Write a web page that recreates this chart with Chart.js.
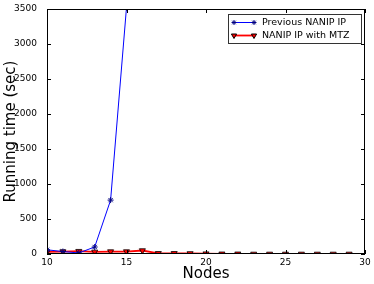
<!DOCTYPE html>
<html>
<head>
<meta charset="utf-8">
<script src="https://cdn.jsdelivr.net/npm/chart.js@4/dist/chart.umd.min.js"></script>
<style>
  html, body { margin: 0; padding: 0; background: #fff; }
  #wrap { width: 374px; height: 284px; }
</style>
</head>
<body>
<div id="wrap"><canvas id="chart" width="374" height="284"></canvas></div>
<script>
// 数据
const nodesPrev = [10, 11, 12, 13, 14, 15];
const timePrev = [60, 35, 15, 100, 770, 3520];
const nodesMtz = [10, 11, 12, 13, 14, 15, 16, 17, 18, 19, 20, 21, 22, 23, 24, 25, 26, 27, 28, 29];
const timeMtz = [30, 35, 40, 30, 35, 35, 50, 10, 10, 8, 5, 3, 3, 1, 1, 1, 1, 1, 1, 1];
const xTicks = [10, 15, 20, 25, 30];
const yTicks = [0, 500, 1000, 1500, 2000, 2500, 3000, 3500];
const labelPrev = 'Previous NANIP IP';
const labelMtz = 'NANIP IP with MTZ';

const FONT = "'DejaVu Sans', sans-serif";

// 刻度线向内 + 图例框
const framePlugin = {
  id: 'frame',
  afterDraw(chart) {
    const { ctx, chartArea: a, scales } = chart;
    ctx.save();
    ctx.strokeStyle = '#000';
    ctx.lineWidth = 1;
    ctx.beginPath();
    xTicks.forEach(v => {
      const x = Math.round(scales.x.getPixelForValue(v)) + 0.5;
      ctx.moveTo(x, a.bottom); ctx.lineTo(x, a.bottom - 4);
      ctx.moveTo(x, a.top); ctx.lineTo(x, a.top + 4);
    });
    yTicks.forEach(v => {
      const y = Math.round(scales.y.getPixelForValue(v)) + 0.5;
      ctx.moveTo(a.left, y); ctx.lineTo(a.left + 4, y);
      ctx.moveTo(a.right, y); ctx.lineTo(a.right - 4, y);
    });
    ctx.stroke();
    ctx.strokeRect(a.left + 0.5, a.top + 0.5, a.right - a.left - 1, a.bottom - a.top - 1);

    // 图例
    const bx = 228.5, by = 14.5, bw = 133, bh = 29;
    ctx.fillStyle = '#fff';
    ctx.fillRect(bx, by, bw, bh);
    ctx.strokeStyle = '#333';
    ctx.strokeRect(bx, by, bw, bh);
    const items = [
      { y: 22, color: '#0000ff', style: 'star', fill: '#000080', r: 2.5, rot: 0, w: 1, label: labelPrev },
      { y: 35, color: '#ff0000', style: 'triangle', fill: '#ff0000', r: 3, rot: 180, w: 1.8, label: labelMtz },
    ];
    items.forEach(it => {
      ctx.strokeStyle = it.color;
      ctx.lineWidth = it.w;
      ctx.beginPath();
      ctx.moveTo(234, it.y + 0.5); ctx.lineTo(254, it.y + 0.5);
      ctx.stroke();
      [234, 254].forEach(px => {
        ctx.fillStyle = it.fill;
        ctx.strokeStyle = it.style === 'star' ? '#000080' : '#000';
        ctx.lineWidth = 1;
        Chart.helpers.drawPoint(ctx, { pointStyle: it.style, radius: it.r, rotation: it.rot, borderWidth: 1 }, px, it.y + 0.5);
      });
      ctx.fillStyle = '#000';
      ctx.font = '9.5px ' + FONT;
      ctx.textBaseline = 'middle';
      ctx.fillText(it.label, 262, it.y + 1);
    });
    ctx.restore();
  }
};

new Chart(document.getElementById('chart').getContext('2d'), {
  type: 'line',
  data: {
    datasets: [
      {
        label: labelPrev,
        data: nodesPrev.map((n, i) => ({ x: n, y: timePrev[i] })),
        borderColor: '#0000ff',
        borderWidth: 1,
        pointStyle: 'star',
        pointRadius: 3,
        pointBorderColor: '#000080',
        pointBackgroundColor: '#000080',
        pointBorderWidth: 1,
        tension: 0,
      },
      {
        label: labelMtz,
        data: nodesMtz.map((n, i) => ({ x: n, y: timeMtz[i] })),
        borderColor: '#ff0000',
        borderWidth: 1.8,
        pointStyle: 'triangle',
        rotation: 180,
        pointRadius: 3.5,
        pointBorderColor: '#000',
        pointBackgroundColor: '#ff0000',
        pointBorderWidth: 0.8,
        tension: 0,
      },
    ],
  },
  options: {
    responsive: false,
    animation: false,
    layout: { padding: { top: 9, right: 9, left: 0, bottom: 0 } },
    plugins: {
      legend: { display: false },
      tooltip: { enabled: false },
    },
    scales: {
      x: {
        type: 'linear',
        min: 10, max: 30,
        afterBuildTicks: s => { s.ticks = xTicks.map(v => ({ value: v })); },
        afterFit: s => { s.height = 30; },
        grid: { display: false },
        border: { display: false },
        ticks: { color: '#000', font: { family: FONT, size: 9 }, padding: -5, maxRotation: 0, callback: v => String(v) },
        title: { display: true, text: 'Nodes', color: '#000', font: { family: FONT, size: 15 }, padding: { top: 0, bottom: 1 } },
      },
      y: {
        type: 'linear',
        min: 0, max: 3500,
        afterBuildTicks: s => { s.ticks = yTicks.map(v => ({ value: v })); },
        afterFit: s => { s.width = 47; },
        grid: { display: false },
        border: { display: false },
        ticks: { color: '#000', font: { family: FONT, size: 9 }, padding: 2, callback: v => String(v) },
        title: { display: true, text: 'Running time (sec)', color: '#000', font: { family: FONT, size: 15 }, padding: { top: 2, bottom: 0 } },
      },
    },
  },
  plugins: [framePlugin],
});
</script>
</body>
</html>
